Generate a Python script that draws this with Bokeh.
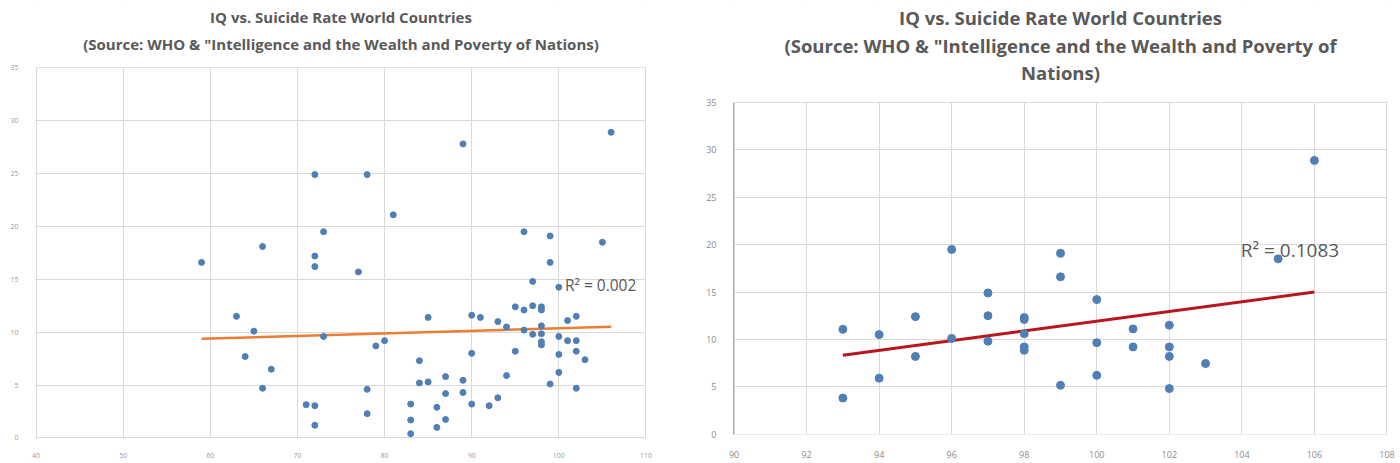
from bokeh.plotting import figure
from bokeh.layouts import row
from bokeh.models import Range1d, Label, FixedTicker, BoxAnnotation
from bokeh.embed import file_html
from bokeh.resources import INLINE

# ---- data: all countries (left chart) ----
iq_all = [59, 63, 64, 65, 66, 66, 67, 71, 72, 72, 72, 72, 72, 73, 73,
          77, 78, 78, 78, 79, 80, 81, 83, 83, 83, 84, 84, 85, 85, 86, 86,
          87, 87, 87, 89, 89, 89, 90, 90, 90, 91, 92, 93, 93, 94, 94,
          95, 95, 96, 96, 96, 97, 97, 97, 98, 98, 98, 98, 98, 98,
          99, 99, 99, 100, 100, 100, 100, 101, 101, 102, 102, 102, 102,
          103, 105, 106]
rate_all = [16.6, 11.5, 7.7, 10.1, 18.1, 4.7, 6.5, 3.15, 3.05, 1.2, 24.9, 17.2, 16.2, 19.5, 9.6,
            15.7, 24.9, 4.6, 2.3, 8.7, 9.2, 21.1, 3.2, 1.7, 0.4, 7.3, 5.2, 5.3, 11.4, 2.9, 1.0,
            5.8, 4.2, 1.75, 27.8, 5.45, 4.3, 11.6, 8.0, 3.2, 11.4, 3.05, 11.0, 3.8, 10.5, 5.9,
            12.4, 8.2, 19.5, 12.1, 10.2, 14.8, 12.5, 9.8, 12.4, 12.1, 10.6, 9.85, 9.1, 8.8,
            19.1, 16.6, 5.1, 14.25, 9.6, 7.9, 6.2, 11.1, 9.2, 11.5, 9.2, 8.2, 4.7,
            7.4, 18.5, 28.9]
trend_all_x = [59, 106]
trend_all_y = [9.38, 10.52]
r2_all = "R² = 0.002"

# ---- data: IQ >= 93 (right chart) ----
iq_sub = [93, 93, 94, 94, 95, 95, 96, 96, 97, 97, 97, 98, 98, 98, 98, 98,
          99, 99, 99, 100, 100, 100, 101, 101, 102, 102, 102, 102, 103, 105, 106]
rate_sub = [11.06, 3.8, 10.5, 5.9, 12.4, 8.2, 19.5, 10.1, 14.9, 12.5, 9.8, 12.3, 12.1, 10.6, 9.2, 8.85,
            19.1, 16.6, 5.15, 14.2, 9.65, 6.2, 11.1, 9.2, 11.5, 9.2, 8.2, 4.8, 7.45, 18.5, 28.9]
trend_sub_x = [93, 106]
trend_sub_y = [8.33, 15.0]
r2_sub = "R² = 0.1083"

title_left_lines = ["IQ vs. Suicide Rate World Countries",
                    '(Source: WHO & "Intelligence and the Wealth and Poverty of Nations)']
title_right_lines = ["IQ vs. Suicide Rate World Countries",
                     '(Source: WHO & "Intelligence and the Wealth and Poverty of',
                     "Nations)"]

x_ticks_left = [40, 50, 60, 70, 80, 90, 100, 110]
x_ticks_right = [90, 92, 94, 96, 98, 100, 102, 104, 106, 108]
y_ticks = [0, 5, 10, 15, 20, 25, 30, 35]
y_max = 35

FONT = "Open Sans"
GRID = "#d9d9d9"
TXT = "#595959"
DOT = "#4f7fb4"


def base_fig(width, height, xr, xpad, yr_top, xt, border, tick_px, tick_col):
    # the frame reaches the top of the canvas; the area above y_max holds the title
    p = figure(width=width, height=height, output_backend="svg", toolbar_location=None,
               x_range=Range1d(xr[0] - xpad, xr[1] + xpad), y_range=Range1d(-0.05, yr_top),
               title=None,
               min_border_left=border[0], min_border_right=border[1],
               min_border_top=border[2], min_border_bottom=border[3])
    p.frame_align = False
    p.background_fill_color = "white"
    p.border_fill_color = "white"
    p.outline_line_color = None
    p.xaxis.ticker = FixedTicker(ticks=xt)
    p.yaxis.ticker = FixedTicker(ticks=y_ticks)
    for ax in (p.xaxis[0], p.yaxis[0]):
        ax.major_label_text_font = FONT
        ax.major_label_text_font_size = tick_px
        ax.major_label_text_color = tick_col
        ax.minor_tick_line_color = None
        ax.major_tick_line_color = None
        ax.axis_line_color = None
    p.yaxis.bounds = (0, y_max)
    p.xgrid.grid_line_color = GRID
    p.ygrid.grid_line_color = GRID
    p.xgrid.ticker = FixedTicker(ticks=xt)
    p.ygrid.ticker = FixedTicker(ticks=y_ticks)
    # blank out grid above the plotting area (title zone)
    p.add_layout(BoxAnnotation(bottom=y_max + 0.06, fill_color="white", fill_alpha=1.0,
                               line_alpha=0, level="underlay"))
    return p


def add_title_lines(p, lines, cx, ys, size):
    for text, y in zip(lines, ys):
        p.add_layout(Label(x=cx, y=y, text=text,
                           text_align="center", text_baseline="middle",
                           text_font=FONT, text_font_size=size,
                           text_font_style="bold", text_color=TXT))


# ---- left chart: frame 35..646 x 0..442, 35 units over 374 px ----
p1 = base_fig(692, 460, (40, 110), 0.06, 41.36, x_ticks_left, (35, 46, 0, 18), "7px", "#9a9a9a")
p1.xaxis.major_label_standoff = 8
p1.yaxis.major_label_standoff = 11
add_title_lines(p1, title_left_lines, 75, [39.77, 37.25], "15px")
p1.line(trend_all_x, trend_all_y, line_width=2.5, color="#ed7d31")
p1.scatter(iq_all, rate_all, size=6, color=DOT)
p1.add_layout(Label(x=100.7, y=14.5, text=r2_all, text_baseline="middle",
                    text_font=FONT, text_font_size="15.5px", text_color=TXT))

# ---- right chart: frame 733..1387 x 0..437, 35 units over 334 px ----
p2 = base_fig(706, 460, (90, 108), 0.015, 45.79, x_ticks_right, (41, 11, 0, 23), "9px", "#8a8a8a")
p2.xaxis.major_label_standoff = 10
p2.yaxis.major_label_standoff = 11
p2.yaxis.axis_line_color = "#a6a6a6"
add_title_lines(p2, title_right_lines, 99, [44.01, 41.08, 38.14], "18.5px")
p2.line(trend_sub_x, trend_sub_y, line_width=3, color="#b8161c")
p2.scatter(iq_sub, rate_sub, size=8, color=DOT)
p2.add_layout(Label(x=103.97, y=19.4, text=r2_sub, text_baseline="middle",
                    text_font=FONT, text_font_size="19px", text_color=TXT))

layout = row(p1, p2)
open("out.html", "w").write(file_html(layout, INLINE))
